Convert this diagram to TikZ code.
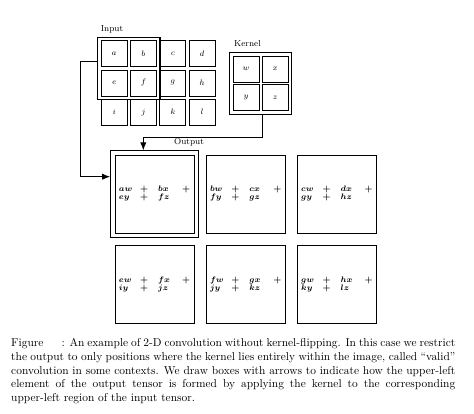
\documentclass[tikz,border=0pt]{standalone}
\usetikzlibrary{fit,arrows.meta}
\begin{document}
\begin{tikzpicture}[
    x=0.876pt, y=-0.876pt,
    cell/.style={draw=black, line width=0.6pt, minimum size=22.8pt, inner sep=0pt, font=\fontsize{7}{8}\selectfont},
    window/.style={draw=black, line width=1.1pt, inner sep=2.8pt},
    outbox/.style={draw=black, line width=0.7pt, minimum width=69.2pt, minimum height=68.3pt, inner sep=0pt, font=\fontsize{7}{7}\selectfont\boldmath},
    title/.style={font=\fontsize{7.6}{9}\selectfont},
    edge/.style={->, >={Latex[length=7pt,width=5.5pt]}, line width=0.8pt}
  ]
  \useasboundingbox (0,0) rectangle (474,414);

  % Input grid: 3 rows of 4 cells
  \foreach \i/\ltr in {0/a,1/b,2/c,3/d,4/e,5/f,6/g,7/h,8/i,9/j,10/k,11/l} {
    \pgfmathtruncatemacro\col{mod(\i,4)}
    \pgfmathtruncatemacro\row{div(\i,4)}
    \node[cell] (\ltr) at (114.2+29.3*\col, 53.8+29.2*\row) {$\ltr$};
  }

  % Kernel: 2 x 2 cells
  \foreach \i/\ltr in {0/w,1/x,2/y,3/z} {
    \pgfmathtruncatemacro\col{mod(\i,2)}
    \pgfmathtruncatemacro\row{div(\i,2)}
    \node[cell] (k\ltr) at (246+29.3*\col, 69+28.6*\row) {$\ltr$};
  }

  % Boxes round the upper-left input region and the kernel
  \node[window, fit=(a)(f)] (inwin) {};
  \node[window, fit=(kw)(kz)] (kwin) {};

  % Output: 2 rows of 3 sums
  \foreach \i/\p/\q/\r/\s in {0/a/b/e/f, 1/b/c/f/g, 2/c/d/g/h, 3/e/f/i/j, 4/f/g/j/k, 5/g/h/k/l} {
    \pgfmathtruncatemacro\col{mod(\i,3)}
    \pgfmathtruncatemacro\row{div(\i,3)}
    \node[outbox] (o\i) at (154.5+91.2*\col, 194.2+90.5*\row) {%
      \begin{tabular}{@{}p{18.7pt}@{}p{15.8pt}@{}p{21pt}@{}l@{}}
        $\p w$ & $+$ & $\q x$ & $+$\\
        $\r y$ & $+$ & $\s z$ &
      \end{tabular}};
  }
  \node[window, line width=0.8pt, inner sep=3.5pt, fit=(o0)] (owin) {};

  % Titles
  \node[title] (inlbl) at (112,29) {Input};
  \node[title] (klbl) at (247.5,44) {Kernel};
  \node[title] (outlbl) at (189,142.7) {Output};

  % Arrows into the upper-left output element
  \draw[edge] ([shift={(0,-6.7)}]inwin.west) -- ++(-16.3,0) |- ([shift={(0,-17.5)}]owin.west);
  \draw[edge] ([shift={(2,0)}]kwin.south) -- ++(0,22.2) -| ([shift={(-11.2,0)}]owin.north);

  % Caption
  \node[anchor=north west, inner sep=0pt, text width=389pt, align=justify, font=\fontsize{10}{12}\selectfont] (caption) at (11,338.5) {Figure\hspace{16pt}: An example of 2-D convolution without kernel-flipping. In this case we restrict\linebreak
    the output to only positions where the kernel lies entirely within the image, called ``valid''\linebreak
    convolution in some contexts. We draw boxes with arrows to indicate how the upper-left\linebreak
    element of the output tensor is formed by applying the kernel to the corresponding\linebreak
    upper-left region of the input tensor.};

\end{tikzpicture}
\end{document}
